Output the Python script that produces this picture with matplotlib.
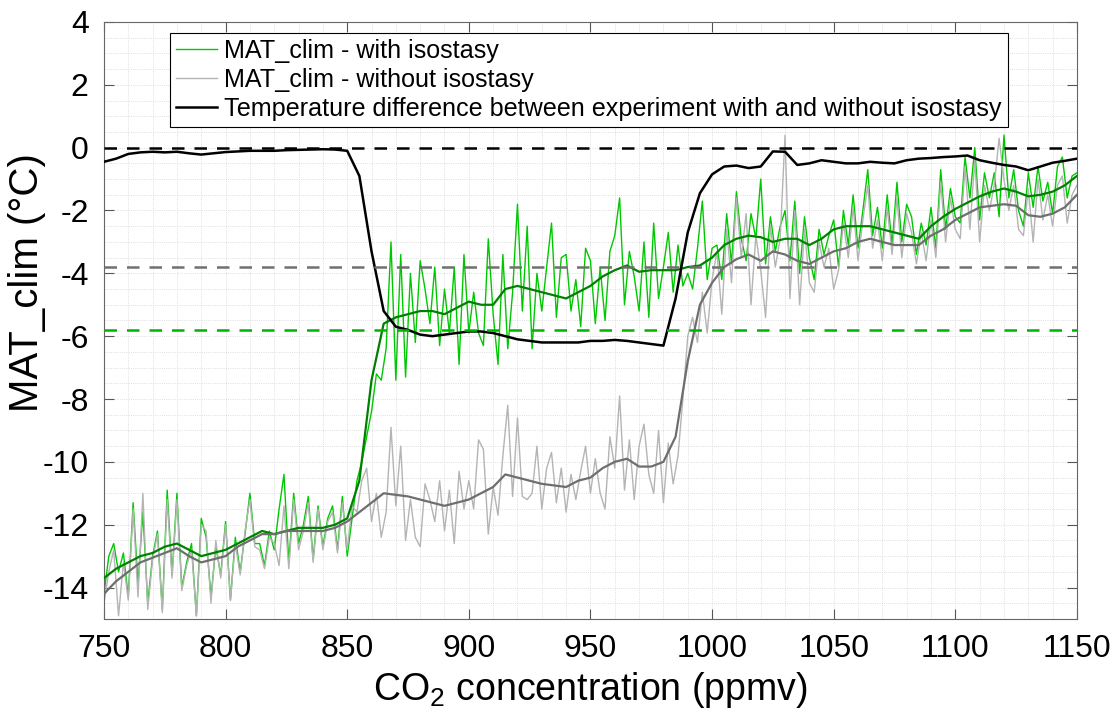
import numpy as np
import matplotlib
matplotlib.use("Agg")
import matplotlib.pyplot as plt
from matplotlib.ticker import MultipleLocator

plt.rcParams['font.family'] = ['Liberation Sans', 'DejaVu Sans']
plt.rcParams['mathtext.fontset'] = 'custom'
plt.rcParams['mathtext.rm'] = 'Liberation Sans'
plt.rcParams['axes.unicode_minus'] = False

# raw annual values, every 2 ppmv from 750 to 1150
mat_iso = [
    -14.2, -13.0, -12.6, -13.5, -12.9, -14.3, -11.3, -13.9, -11.6, -14.5,   # 750-768
    -13.0, -12.2, -14.7, -10.9, -13.6, -11.0, -14.0, -13.2, -12.6, -14.9,   # 770-788
    -11.8, -12.4, -14.3, -12.7, -13.6, -11.9, -14.4, -12.4, -13.5, -12.3,   # 790-808
    -11.0, -12.6, -12.6, -13.3, -12.2, -12.8, -11.5, -10.4, -13.2, -11.0,   # 810-828
    -12.6, -12.0, -11.1, -13.1, -11.4, -12.7, -11.8, -11.4, -12.8, -11.1,   # 830-848
    -13.0, -11.8, -10.6, -10.0, -9.2, -8.4, -7.2, -7.4, -6.4, -3.0,         # 850-868
    -7.4, -3.4, -7.3, -4.0, -6.2, -3.6, -4.5, -5.6, -3.8, -6.3,             # 870-888
    -4.5, -5.9, -3.8, -6.9, -3.4, -5.9, -4.6, -5.9, -6.3, -2.9,             # 890-908
    -5.3, -6.9, -3.4, -6.4, -4.6, -1.8, -5.2, -2.5, -6.4, -4.0,             # 910-928
    -5.2, -3.8, -2.4, -5.4, -3.5, -3.4, -5.2, -4.2, -5.7, -3.2,             # 930-948
    -3.6, -5.6, -3.8, -5.5, -3.3, -2.8, -1.6, -5.0, -3.3, -4.1,             # 950-968
    -5.2, -3.0, -5.4, -2.4, -4.8, -3.8, -2.7, -4.6, -3.1, -4.4,             # 970-988
    -4.0, -4.5, -3.2, -1.7, -4.2, -3.2, -3.1, -4.2, -2.1, -3.7,             # 990-1008
    -1.4, -2.9, -3.6, -2.1, -2.9, -1.0, -3.7, -2.2, -3.3, -2.5,             # 1010-1028
    -2.0, -3.6, -1.7, -4.0, -2.2, -3.5, -4.2, -2.6, -3.4, -2.8,             # 1030-1048
    -2.3, -3.8, -2.0, -3.1, -1.5, -3.2, -2.0, -0.7, -2.8, -1.9,             # 1050-1068
    -3.2, -1.5, -3.1, -1.1, -3.0, -1.8, -2.2, -3.4, -2.4, -3.1,             # 1070-1088
    -1.9, -3.2, -0.7, -2.6, -1.3, -2.2, -2.4, -0.3, -1.6, 0.0,              # 1090-1108
    -2.3, -0.8, -1.6, -0.8, -2.2, 0.4, -1.6, -0.7, -2.0, -2.5,              # 1110-1128
    -0.8, -1.9, -0.6, -1.7, -1.1, -2.1, -0.6, -0.3, -1.6, -0.9,             # 1130-1148
    -0.8,                                                                   # 1150
]
mat_noiso = [
    -14.5, -13.5, -12.8, -14.9, -13.2, -14.4, -11.5, -14.3, -11.0, -14.7,
    -13.1, -12.3, -14.8, -11.2, -13.7, -11.2, -14.1, -13.3, -12.8, -14.9,
    -12.0, -12.2, -14.5, -12.5, -13.7, -12.0, -14.4, -12.6, -13.6, -12.2,
    -11.2, -12.7, -12.8, -13.4, -12.4, -12.6, -13.3, -11.4, -13.4, -11.2,
    -12.8, -12.2, -11.3, -13.2, -11.5, -12.8, -11.9, -11.6, -12.9, -11.3,
    -12.8, -11.4, -11.6, -10.6, -10.2, -11.9, -11.0, -12.4, -11.6, -8.9,
    -11.4, -9.5, -12.5, -11.2, -12.4, -12.7, -10.7, -11.2, -11.9, -10.6,
    -12.2, -10.9, -12.6, -10.3, -11.5, -10.6, -11.5, -9.3, -9.6, -12.3,
    -10.8, -11.7, -9.8, -8.2, -11.1, -8.6, -11.1, -11.2, -11.0, -9.5,
    -11.5, -10.2, -9.7, -11.3, -10.2, -11.6, -10.4, -11.2, -10.3, -9.5,
    -11.0, -9.9, -11.0, -11.5, -9.2, -10.2, -7.9, -10.9, -9.3, -11.2,
    -9.5, -8.8, -10.4, -11.0, -9.0, -11.3, -9.4, -10.7, -9.8, -8.0,
    -6.0, -5.4, -6.2, -4.6, -5.9, -4.2, -3.3, -5.3, -2.6, -4.3,
    -1.6, -3.5, -2.1, -5.0, -2.8, -3.9, -5.4, -2.5, -3.8, -2.9,
    0.4, -4.8, -2.0, -5.0, -2.6, -4.3, -4.6, -3.0, -3.8, -3.2,
    -4.5, -3.9, -2.4, -3.5, -1.9, -3.6, -2.3, -1.2, -3.2, -2.3,
    -3.6, -1.9, -3.4, -1.6, -3.5, -2.1, -2.7, -3.7, -2.7, -3.6,
    -2.3, -3.5, -1.1, -3.0, -1.6, -2.6, -2.9, -0.6, -2.6, -0.4,
    -3.0, -1.2, -2.0, -1.2, 0.3, -1.0, -2.0, -1.2, -2.6, -2.8,
    -1.3, -3.0, -1.0, -2.3, -1.5, -2.5, -1.2, -0.9, -2.4, -1.5,
    -1.2,
]
co2_raw = np.arange(750, 750 + 2 * len(mat_iso), 2)

# running means and temperature difference, every 5 ppmv
mean_iso = [
    -13.7, -13.4, -13.2, -13.0, -12.9, -12.7, -12.6, -12.8, -13.0, -12.9,
    -12.8, -12.6, -12.4, -12.2, -12.3, -12.2, -12.1, -12.1, -12.1, -12.0,
    -11.8, -10.6, -7.4, -5.6, -5.4, -5.3, -5.2, -5.2, -5.3, -5.1,
    -4.9, -5.0, -5.0, -4.5, -4.4, -4.5, -4.6, -4.7, -4.8, -4.6,
    -4.4, -4.1, -3.9, -3.75, -3.95, -3.9, -3.9, -3.9, -3.8, -3.75,
    -3.5, -3.1, -2.9, -2.8, -2.85, -3.0, -2.9, -2.9, -3.1, -2.9,
    -2.6, -2.5, -2.5, -2.5, -2.6, -2.7, -2.8, -2.9, -2.5, -2.2,
    -1.95, -1.75, -1.55, -1.4, -1.3, -1.4, -1.55, -1.5, -1.4, -1.2,
    -0.9,
]
mean_noiso = [
    -14.2, -13.8, -13.5, -13.2, -13.05, -12.9, -12.75, -13.0, -13.2, -13.1,
    -13.0, -12.7, -12.5, -12.3, -12.3, -12.2, -12.2, -12.2, -12.2, -12.1,
    -11.9, -11.6, -11.3, -11.0, -11.05, -11.1, -11.2, -11.3, -11.4, -11.3,
    -11.2, -11.0, -10.8, -10.4, -10.5, -10.6, -10.7, -10.75, -10.8, -10.6,
    -10.5, -10.2, -10.0, -9.9, -10.15, -10.15, -10.0, -9.2, -6.8, -5.0,
    -4.3, -3.8, -3.55, -3.4, -3.6, -3.3, -3.4, -3.6, -3.7, -3.5,
    -3.3, -3.2, -3.0, -2.9, -3.0, -3.1, -3.1, -3.1, -2.8, -2.6,
    -2.3, -2.1, -1.9, -1.85, -1.8, -1.85, -2.15, -2.2, -2.1, -1.9,
    -1.5,
]
dT = [
    -0.45, -0.35, -0.2, -0.15, -0.13, -0.15, -0.13, -0.18, -0.22, -0.18,
    -0.14, -0.12, -0.1, -0.1, -0.1, -0.08, -0.07, -0.06, -0.05, -0.06,
    -0.1, -0.9, -3.3, -5.2, -5.7, -5.8, -5.95, -6.0, -5.95, -5.9,
    -5.85, -5.85, -5.9, -6.0, -6.1, -6.15, -6.2, -6.2, -6.2, -6.2,
    -6.15, -6.15, -6.12, -6.15, -6.2, -6.25, -6.3, -4.8, -2.7, -1.45,
    -0.85, -0.6, -0.57, -0.65, -0.6, -0.12, -0.13, -0.55, -0.5, -0.4,
    -0.45, -0.5, -0.5, -0.45, -0.48, -0.5, -0.4, -0.35, -0.33, -0.3,
    -0.28, -0.25, -0.4, -0.48, -0.55, -0.6, -0.72, -0.6, -0.48, -0.42,
    -0.35,
]
co2_mean = np.arange(750, 1151, 5)

ref_levels = [0.0, -3.8, -5.8]
ref_colors = ['black', '#707070', '#00b400']

fig = plt.figure(figsize=(11.13, 7.09), dpi=100)
ax = fig.add_axes([0.0934, 0.127, 0.8742, 0.842])

l1, = ax.plot(co2_raw, mat_iso, color='#00c800', lw=1.0, zorder=2)
l2, = ax.plot(co2_raw, mat_noiso, color='#b4b4b4', lw=1.0, zorder=2)
ax.plot(co2_mean, mean_iso, color='#008000', lw=1.6, zorder=3)
ax.plot(co2_mean, mean_noiso, color='#6e6e6e', lw=1.6, zorder=3)
l3, = ax.plot(co2_mean, dT, color='black', lw=1.8, zorder=4)
for lev, c in zip(ref_levels, ref_colors):
    ax.axhline(lev, color=c, lw=1.8, ls=(0, (5, 4)), zorder=5)

ax.set_xlim(750, 1150)
ax.set_ylim(-15, 4)
ax.xaxis.set_major_locator(MultipleLocator(50))
ax.xaxis.set_minor_locator(MultipleLocator(10))
ax.yaxis.set_major_locator(MultipleLocator(2))
ax.yaxis.set_minor_locator(MultipleLocator(0.5))
ax.grid(True, which='both', color='#d4d4d4', lw=0.6, ls=':')
ax.set_axisbelow(True)
ax.tick_params(which='major', direction='in', length=7, width=0.8, color='#555555',
               top=True, right=True, labelsize=23, pad=11)
ax.tick_params(which='minor', length=0, top=True, right=True)
for s in ax.spines.values():
    s.set_color('#666666')
    s.set_linewidth(0.8)

ax.set_xlabel('CO$_\\mathrm{2}$ concentration (ppmv)', fontsize=27, labelpad=4)
ax.set_ylabel('MAT_clim (°C)', fontsize=29)
ax.yaxis.set_label_coords(-0.060, 0.563)

leg = ax.legend([l1, l2, l3],
                ['MAT_clim - with isostasy', 'MAT_clim - without isostasy',
                 'Temperature difference between experiment with and without isostasy'],
                loc='upper left', bbox_to_anchor=(0.068, 0.982), borderaxespad=0,
                fontsize=18.1, fancybox=False, framealpha=1, edgecolor='black',
                handlelength=1.6, handletextpad=0.3, labelspacing=0.2, borderpad=0.25)
leg.get_frame().set_linewidth(0.8)

fig.savefig('out.png', dpi=100)
